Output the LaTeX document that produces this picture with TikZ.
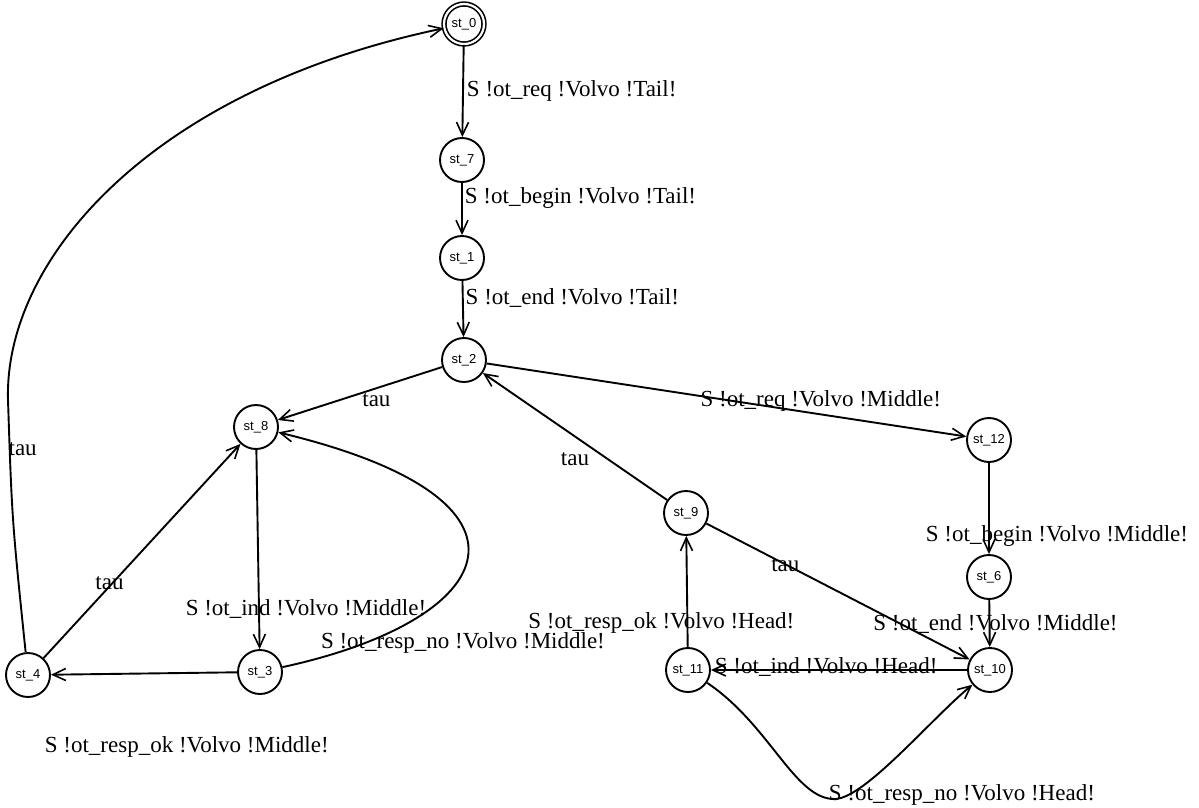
\documentclass[tikz,border=0pt]{standalone}
\usepackage{fontspec}
\setmainfont{Liberation Serif}
\newfontfamily\nodefont{Liberation Sans}
\usetikzlibrary{arrows.meta}
\begin{document}
\begin{tikzpicture}[x=1pt,y=-1pt,
  st/.style={circle,draw,line width=1.9pt,minimum size=44pt,inner sep=0pt,
    font=\nodefont\fontsize{13}{13}\selectfont},
  init/.style={st,double,double distance=2.2pt,line width=1.6pt,minimum size=40pt},
  tr/.style={-{Straight Barb[length=13pt,width=12pt,line width=1.6pt]},line width=1.9pt},
  lab/.style={font=\fontsize{23}{25}\selectfont,inner sep=1pt}]
\useasboundingbox (0,0) rectangle (1199,808);

\node[init] (s0) at (464,24) {st\_0};
\node[st] (s7) at (462,160) {st\_7};
\node[st] (s1) at (462,258) {st\_1};
\node[st] (s2) at (464,360) {st\_2};
\node[st] (s8) at (256,427) {st\_8};
\node[st] (s3) at (260,672) {st\_3};
\node[st] (s4) at (28,675) {st\_4};
\node[st] (s12) at (989,440) {st\_12};
\node[st] (s6) at (989,577) {st\_6};
\node[st] (s10) at (990,670) {st\_10};
\node[st] (s9) at (686,513) {st\_9};
\node[st] (s11) at (688,670) {st\_11};

\draw[tr] (s0) -- node[lab,pos=0.5,anchor=west,xshift=2pt]{S !ot\_req !Volvo !Tail!} (s7);
\draw[tr] (s7) -- node[lab,pos=0.28,anchor=west,xshift=1pt]{S !ot\_begin !Volvo !Tail!} (s1);
\draw[tr] (s1) -- node[lab,pos=0.31,anchor=west,xshift=1pt]{S !ot\_end !Volvo !Tail!} (s2);
\draw[tr] (s2) -- node[lab,pos=0.4,anchor=north,yshift=-3pt]{tau} (s8);
\draw[tr] (s2) -- node[lab,pos=0.68,anchor=south,xshift=8pt]{S !ot\_req !Volvo !Middle!} (s12);
\draw[tr] (s9) -- node[lab,pos=0.5,anchor=north,yshift=-14pt]{tau} (s2);
\draw[tr] (s12) -- node[lab,pos=0.8,xshift=68pt]{S !ot\_begin !Volvo !Middle!} (s6);
\draw[tr] (s6) -- node[lab,pos=0.5,xshift=6pt]{S !ot\_end !Volvo !Middle!} (s10);
\draw[tr] (s9) -- node[lab,pos=0.3,anchor=south,inner sep=0pt,yshift=-8pt]{tau} (s10);
\draw[tr] (s8) -- node[lab,pos=0.8,xshift=47pt]{S !ot\_ind !Volvo !Middle!} (s3);
\draw[tr] (s3) .. controls (500,620) and (560,500) .. node[lab,pos=0.15,anchor=base west,xshift=-50pt,yshift=-7pt]{S !ot\_resp\_no !Volvo !Middle!} (s8);
\draw[tr] (s3) -- node[lab,pos=0.27,anchor=north,yshift=-62pt]{S !ot\_resp\_ok !Volvo !Middle!} (s4);
\draw[tr] (s4) -- node[lab,pos=0.33,anchor=south east,inner sep=0pt,xshift=16pt,yshift=-3pt]{tau} (s8);
\draw[tr] (s4) .. controls (12,520) .. (8,400) node[lab,pos=0.84,anchor=west,xshift=-3pt]{tau}
  .. controls (4,260) and (150,90) .. (s0);
\draw[tr] (s11) -- node[lab,pos=0.22,xshift=-26pt]{S !ot\_resp\_ok !Volvo !Head!} (s9);
\draw[tr] (s10) -- node[lab,pos=0.55,anchor=base,yshift=-3pt]{S !ot\_ind !Volvo !Head!} (s11);
\draw[tr] (s11) .. controls (770,725) and (795,800) .. (835,799)
  node[lab,anchor=base west,xshift=-8pt,yshift=-1pt]{S !ot\_resp\_no !Volvo !Head!}
  .. controls (865,798) and (930,720) .. (s10);
\end{tikzpicture}
\end{document}
